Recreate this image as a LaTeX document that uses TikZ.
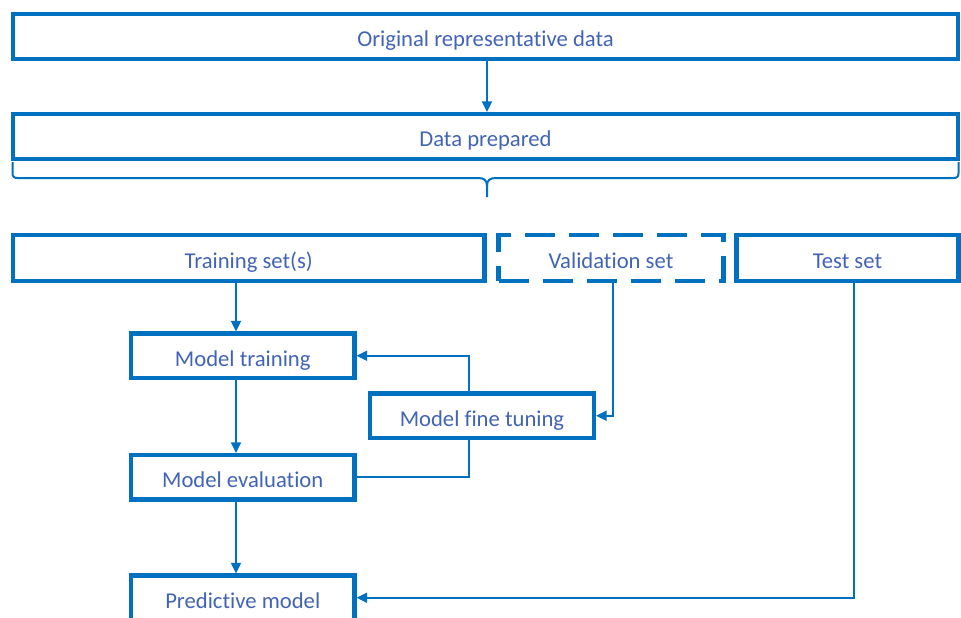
\documentclass[tikz,border=0pt]{standalone}
\usepackage{fontspec}
\setmainfont{Carlito}[Ligatures=NoCommon]
\usetikzlibrary{arrows.meta}
\definecolor{edgeblue}{RGB}{0,112,192}
\definecolor{labelblue}{RGB}{66,100,182}
\tikzset{
  box/.style={draw=edgeblue, line width=3.1pt, rectangle, inner sep=0pt,
    text=labelblue, font=\fontsize{17}{20}\selectfont, align=center,
    text height=15.5pt, text depth=0pt},
  dashbox/.style={box, dash pattern=on 22.5pt off 10.5pt},
  link/.style={draw=edgeblue, line width=1.5pt},
  arr/.style={link, -{Triangle[length=8pt,width=7.5pt]}},
}
\begin{document}
\begin{tikzpicture}[x=0.75pt, y=-0.75pt]
\useasboundingbox (0,0) rectangle (961,618);
\fill[white] (0,0) rectangle (961,618);
\clip (0,0) rectangle (961,618);

% data preparation
\node[box, minimum width=708.75pt, minimum height=33.75pt] (orig) at (485.5,36.5) {Original representative data};
\node[box, minimum width=708.75pt, minimum height=33.75pt] (prep) at (485.5,136.5) {Data prepared};

% data split
\node[box, minimum width=353.625pt, minimum height=34.875pt] (train) at (248.75,258) {Training set(s)};
\node[dashbox, minimum width=168.75pt, minimum height=34.875pt] (valid) at (611,258) {Validation set};
\node[box, minimum width=166.5pt, minimum height=34.875pt] (test) at (847.5,258) {Test set};

% modelling steps
\node[box, minimum width=167.625pt, minimum height=33.375pt] (mtrain) at (242.75,355.75) {Model training};
\node[box, minimum width=168pt, minimum height=33.375pt] (tune) at (482,415.75) {Model fine tuning};
\node[box, minimum width=167.625pt, minimum height=33.375pt] (meval) at (242.75,477.25) {Model evaluation};
\node[box, minimum width=167.625pt, minimum height=33.375pt] (pred) at (242.75,597.75) {Predictive model};

% columns of the vertical connectors
\coordinate (lx) at (236,0);
\coordinate (fx) at (469,0);
\coordinate (vx) at (612.5,0);
\coordinate (tx) at (854,0);
\coordinate (dx) at (487,0);

\draw[arr] (orig.south -| dx) -- (prep.north -| dx);

% brace below the prepared data
\draw[link] (12.5,162) -- (12.5,173) .. controls (12.5,177) and (14,178) .. (18,178)
  -- (478,178) .. controls (484,178) and (487,180) .. (487,186) -- (487,197);
\draw[link] (958.5,162) -- (958.5,173) .. controls (958.5,177) and (957,178) .. (953,178)
  -- (496,178) .. controls (490,178) and (487,180) .. (487,186);

\draw[arr] (train.south -| lx) -- (mtrain.north -| lx);
\draw[arr] (mtrain.south -| lx) -- (meval.north -| lx);
\draw[arr] (meval.south -| lx) -- (pred.north -| lx);

\draw[link] (meval.east) -| (tune.south -| fx);
\draw[arr] (tune.north -| fx) |- (mtrain.east);
\draw[arr] (valid.south -| vx) |- (tune.east);
\draw[arr] (test.south -| tx) |- (pred.east);
\end{tikzpicture}
\end{document}
